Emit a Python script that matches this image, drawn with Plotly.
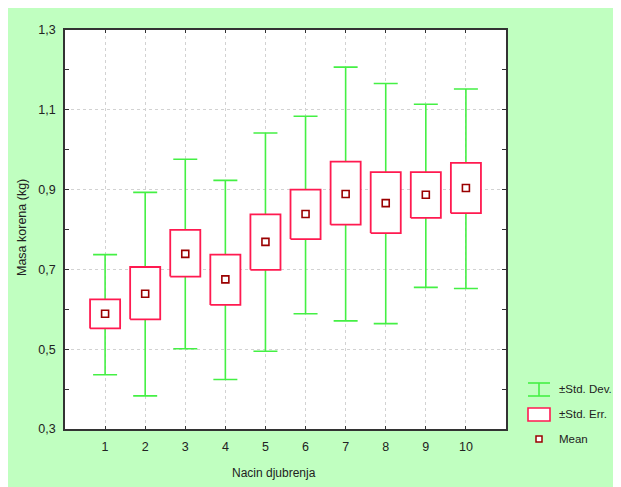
import plotly.graph_objects as go

# ---- data ----
categories = [1, 2, 3, 4, 5, 6, 7, 8, 9, 10]
means = [0.589, 0.639, 0.739, 0.675, 0.769, 0.839, 0.889, 0.866, 0.887, 0.904]
se_low = [0.552, 0.575, 0.682, 0.611, 0.699, 0.776, 0.812, 0.791, 0.829, 0.841]
se_high = [0.625, 0.706, 0.799, 0.737, 0.838, 0.900, 0.970, 0.944, 0.944, 0.967]
sd_low = [0.436, 0.383, 0.501, 0.424, 0.495, 0.589, 0.571, 0.564, 0.655, 0.652]
sd_high = [0.737, 0.893, 0.976, 0.923, 1.042, 1.084, 1.207, 1.166, 1.114, 1.152]
y_ticks = [0.3, 0.5, 0.7, 0.9, 1.1, 1.3]
legend_labels = ["±Std. Dev.", "±Std. Err.", "Mean"]
x_title = "Nacin djubrenja"
y_title = "Masa korena (kg)"

# ---- style ----
W, H = 621, 487
OFF = 8  # page body offset in the screenshot
ML, MR, MT, MB = 57, 123, 22, 66
BG = "#c0ffc0"
GREEN = "#44f044"
RED = "#ff1a50"
DARKRED = "#9a0000"
FONT = "Liberation Sans, Arial, sans-serif"
TXT = "#222222"
GRID = "#d2d2d2"
BOX_HALF = 0.375

fig = go.Figure()

# Std. Dev. whiskers (error bars around the mean)
fig.add_trace(go.Scatter(
    x=categories, y=means, mode="markers",
    marker=dict(size=1, color="rgba(0,0,0,0)"),
    error_y=dict(type="data", symmetric=False,
                 array=[h - m for h, m in zip(sd_high, means)],
                 arrayminus=[m - l for m, l in zip(means, sd_low)],
                 color=GREEN, thickness=1.6, width=12),
    hoverinfo="skip", showlegend=False))

# Std. Err. boxes
bx, by = [], []
for c, lo, hi in zip(categories, se_low, se_high):
    bx += [c - BOX_HALF, c + BOX_HALF, c + BOX_HALF, c - BOX_HALF, c - BOX_HALF, None]
    by += [lo, lo, hi, hi, lo, None]
fig.add_trace(go.Scatter(
    x=bx, y=by, mode="lines", fill="toself", fillcolor="white",
    line=dict(color=RED, width=1.8), hoverinfo="skip", showlegend=False))

# Means
fig.add_trace(go.Scatter(
    x=categories, y=means, mode="markers",
    marker=dict(symbol="square-open", size=7, color=DARKRED, line=dict(width=1.6)),
    showlegend=False))

pw = W - ML - MR
ph = H - MT - MB


def px2x(sx):
    return (sx - OFF - ML) / pw


def px2y(sy):
    return (H - MB - (sy - OFF)) / ph


shapes = []
# legend glyphs
shapes.append(dict(type="line", xref="paper", yref="paper", x0=px2x(539), x1=px2x(539),
                   y0=px2y(383), y1=px2y(396), line=dict(color=GREEN, width=1.6)))
shapes.append(dict(type="line", xref="paper", yref="paper", x0=px2x(528), x1=px2x(550),
                   y0=px2y(383), y1=px2y(383), line=dict(color=GREEN, width=1.6)))
shapes.append(dict(type="line", xref="paper", yref="paper", x0=px2x(528), x1=px2x(550),
                   y0=px2y(396), y1=px2y(396), line=dict(color=GREEN, width=1.6)))
shapes.append(dict(type="rect", xref="paper", yref="paper", x0=px2x(528), x1=px2x(550),
                   y0=px2y(421), y1=px2y(408), fillcolor="white", line=dict(color=RED, width=1.6)))
shapes.append(dict(type="rect", xref="paper", yref="paper", x0=px2x(536), x1=px2x(542),
                   y0=px2y(442), y1=px2y(436), fillcolor="white", line=dict(color=DARKRED, width=1.5)))

annotations = []
for lab, sy in zip(legend_labels, [389, 414, 439]):
    annotations.append(dict(text=lab, xref="paper", yref="paper", x=px2x(557), y=px2y(sy),
                            xanchor="left", yanchor="middle", showarrow=False,
                            font=dict(family=FONT, size=11.5, color=TXT)))
annotations.append(dict(text=x_title, xref="paper", yref="paper", x=px2x(273.5), y=px2y(473),
                        xanchor="center", yanchor="middle", showarrow=False,
                        font=dict(family=FONT, size=12, color=TXT)))
annotations.append(dict(text=y_title, xref="paper", yref="paper", x=px2x(22), y=px2y(228),
                        xanchor="center", yanchor="middle", showarrow=False, textangle=-90,
                        font=dict(family=FONT, size=12.5, color=TXT)))

fig.update_layout(
    width=W, height=H,
    margin=dict(l=ML, r=MR, t=MT, b=MB),
    paper_bgcolor=BG, plot_bgcolor="white",
    separators=",.",
    font=dict(family=FONT, size=12, color=TXT),
    shapes=shapes, annotations=annotations,
    showlegend=False,
    xaxis=dict(range=[0, 11], tickvals=categories, ticks="inside", ticklen=3,
               tickcolor="#333", showline=True, linecolor="#333", linewidth=1.5,
               mirror="allticks", showgrid=True, gridcolor=GRID, griddash="dot",
               gridwidth=1, zeroline=False, ticklabelstandoff=5,
               tickfont=dict(family=FONT, size=12.5, color=TXT)),
    yaxis=dict(range=[0.3, 1.3], tickvals=y_ticks, tickformat=".1f", ticks="inside",
               ticklen=4, tickcolor="#333", showline=True, linecolor="#333", linewidth=1.5,
               mirror="allticks", showgrid=True, gridcolor=GRID, griddash="dot",
               gridwidth=1, zeroline=False, ticklabelstandoff=5,
               minor=dict(dtick=0.1, tick0=0.3, ticks="inside", ticklen=4,
                          tickcolor="#333", showgrid=False),
               tickfont=dict(family=FONT, size=12.5, color=TXT)),
)

fig.write_html("out.html")
